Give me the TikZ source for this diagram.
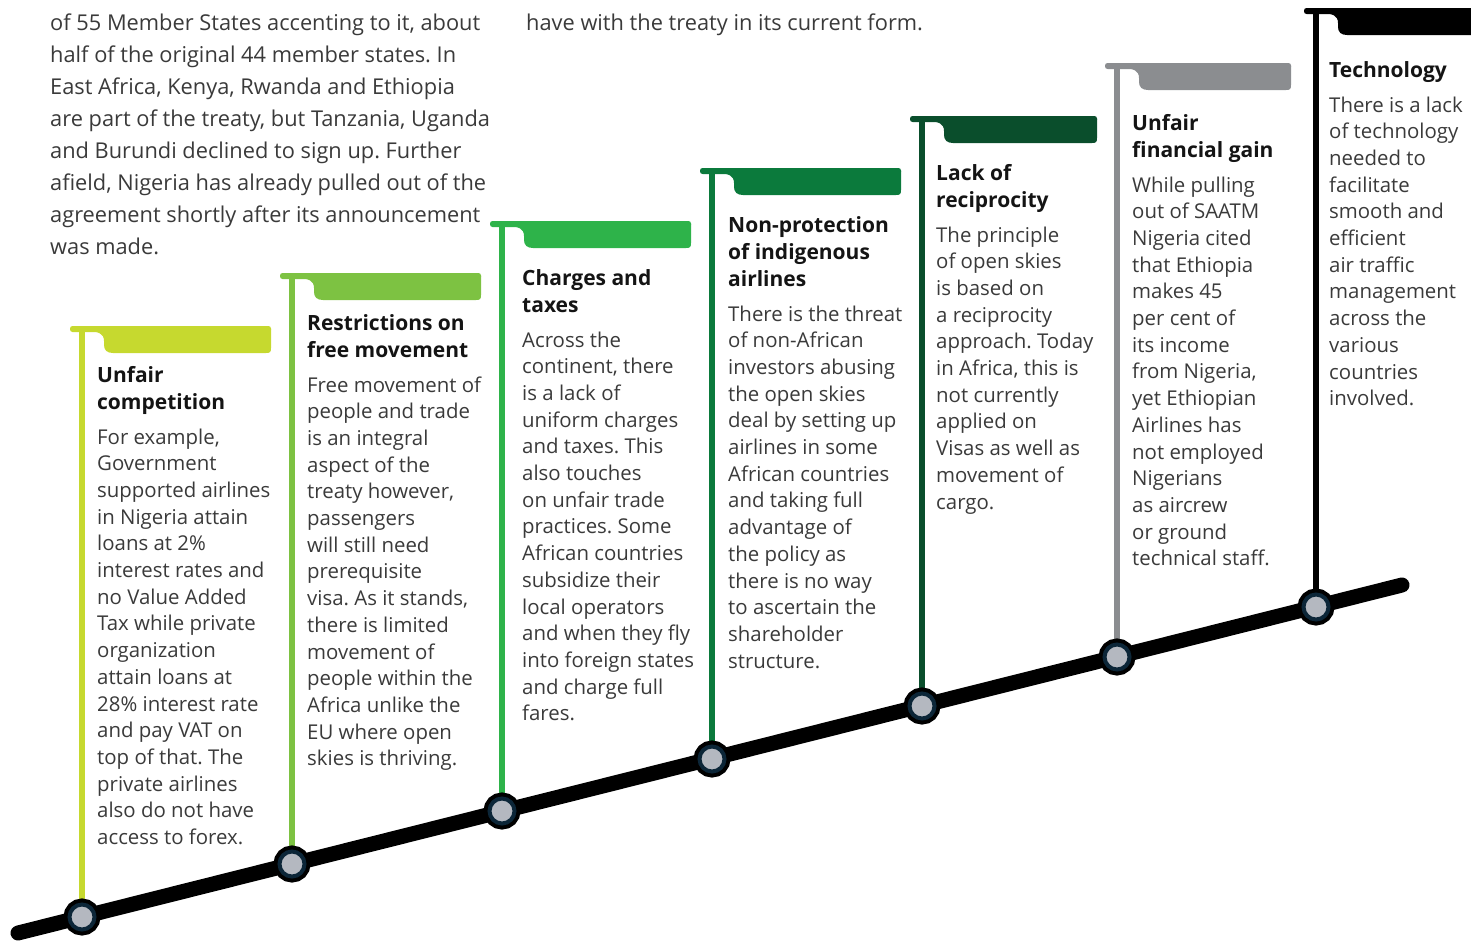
\documentclass[tikz,border=0pt]{standalone}
\usepackage{fontspec}
\setmainfont{Open Sans}
\usetikzlibrary{positioning,backgrounds}
\frenchspacing

\definecolor{cLime}{HTML}{C6D92F}
\definecolor{cLeaf}{HTML}{7DC242}
\definecolor{cGrass}{HTML}{2EB34A}
\definecolor{cForest}{HTML}{0B7A3C}
\definecolor{cPine}{HTML}{0A4E2C}
\definecolor{cAsh}{HTML}{8B8D90}
\definecolor{cInk}{HTML}{000000}
\definecolor{dotgray}{HTML}{B4B8C0}
\definecolor{dotnavy}{HTML}{0C2638}
\definecolor{bodygray}{HTML}{3A3A3A}

% lines stacked with the first baseline as the node's base
\newcommand{\colstack}[1]{\begin{tabular}[t]{@{}l@{}}#1\end{tabular}}

% flag on top of a pole: #1 pole x, #2 top y, #3 right end x, #4 colour
\newcommand{\timeflag}[4]{%
  \fill[#4, rounded corners=2.5pt] ({#1-12},{#2}) rectangle ({#3},{#2+6});
  \fill[#4] ({#1+4},{#2+5}) .. controls ({#1+17},{#2+5}) and ({#1+22},{#2+8}) .. ({#1+22},{#2+15})
    -- ({#1+22},{#2+19}) .. controls ({#1+22},{#2+24}) and ({#1+25},{#2+27}) .. ({#1+31},{#2+27})
    -- ({#3-5},{#2+27}) .. controls ({#3-1},{#2+27}) and ({#3},{#2+26}) .. ({#3},{#2+22})
    -- ({#3},{#2+3}) -- cycle;
}

\begin{document}
\begin{tikzpicture}[x=1pt,y=-1pt,
    timeline/.style={line width=15pt, line cap=round},
    dot/.style={circle, minimum size=25pt, inner sep=0pt, fill=dotgray, draw=dotnavy, line width=4pt,
      preaction={draw=black, line width=12pt}},
    pole/.style={line width=6pt},
    ttl/.style={anchor=base west, inner sep=0pt, text=black!92, font=\bfseries\fontsize{21}{27}\selectfont},
    txt/.style={anchor=base west, inner sep=0pt, text=bodygray, font=\fontsize{20.4}{26.7}\selectfont}]
    \path[use as bounding box] (0,0) rectangle (1471,945);

    % intro text at the top
    \node[txt, font=\fontsize{21.8}{32}\selectfont] (intro) at (50,30) {\colstack{of 55 Member States accenting to it, about\\half of the original 44 member states. In\\East Africa, Kenya, Rwanda and Ethiopia\\are part of the treaty, but Tanzania, Uganda\\and Burundi declined to sign up. Further\\afield, Nigeria has already pulled out of the\\agreement shortly after its announcement\\was made.}};
    \node[txt, font=\fontsize{21.8}{32}\selectfont] (intro2) at (526,30) {have with the treaty in its current form.};

    % the time line
    \coordinate (tl0) at (18,933);
    \coordinate (tl1) at (1402,585);
    \draw[timeline] (tl0) -- (tl1);

    \node[dot] (d1) at (82,917) {};
    \node[dot] (d2) at (292,864) {};
    \node[dot] (d3) at (502,811) {};
    \node[dot] (d4) at (712,759) {};
    \node[dot] (d5) at (922,706) {};
    \node[dot] (d6) at (1117,657) {};
    \node[dot] (d7) at (1316,607) {};

    \coordinate (f1) at (82,326);
    \coordinate (f2) at (292,273);
    \coordinate (f3) at (502,221);
    \coordinate (f4) at (712,168);
    \coordinate (f5) at (922,116);
    \coordinate (f6) at (1117,63);
    \coordinate (f7) at (1316,8);

    \begin{scope}[on background layer]
      \draw[pole, cLime] (f1) -- (d1.center);
      \draw[pole, cLeaf] (f2) -- (d2.center);
      \draw[pole, cGrass] (f3) -- (d3.center);
      \draw[pole, cForest] (f4) -- (d4.center);
      \draw[pole, cPine] (f5) -- (d5.center);
      \draw[pole, cAsh] (f6) -- (d6.center);
      \draw[pole, cInk] (f7) -- (d7.center);
    \end{scope}

    \timeflag{82}{326}{271}{cLime}
    \timeflag{292}{273}{481}{cLeaf}
    \timeflag{502}{221}{691}{cGrass}
    \timeflag{712}{168}{901}{cForest}
    \timeflag{922}{116}{1097}{cPine}
    \timeflag{1117}{63}{1291}{cAsh}
    \timeflag{1316}{8}{1480}{cInk}

    % titles and texts
    \node[ttl] (t1) at (97,382) {\colstack{Unfair\\competition}};
    \node[txt] (b1) at (97,444) {\colstack{For example,\\Government\\supported airlines\\in Nigeria attain\\loans at 2\%\\interest rates and\\no Value Added\\Tax while private\\organization\\attain loans at\\28\% interest rate\\and pay VAT on\\top of that. The\\private airlines\\also do not have\\access to forex.}};

    \node[ttl] (t2) at (307,330) {\colstack{Restrictions on\\free movement}};
    \node[txt] (b2) at (307,392) {\colstack{Free movement of\\people and trade\\is an integral\\aspect of the\\treaty however,\\passengers\\will still need\\prerequisite\\visa. As it stands,\\there is limited\\movement of\\people within the\\Africa unlike the\\EU where open\\skies is thriving.}};

    \node[ttl] (t3) at (522,285) {\colstack{Charges and\\taxes}};
    \node[txt] (b3) at (522,347) {\colstack{Across the\\continent, there\\is a lack of\\uniform charges\\and taxes. This\\also touches\\on unfair trade\\practices. Some\\African countries\\subsidize their\\local operators\\and when they fly\\into foreign states\\and charge full\\fares.}};

    \node[ttl] (t4) at (728,232) {\colstack{Non-protection\\of indigenous\\airlines}};
    \node[txt] (b4) at (728,321) {\colstack{There is the threat\\of non-African\\investors abusing\\the open skies\\deal by setting up\\airlines in some\\African countries\\and taking full\\advantage of\\the policy as\\there is no way\\to ascertain the\\shareholder\\structure.}};

    \node[ttl] (t5) at (936,180) {\colstack{Lack of\\reciprocity}};
    \node[txt] (b5) at (936,242) {\colstack{The principle\\of open skies\\is based on\\a reciprocity\\approach. Today\\in Africa, this is\\not currently\\applied on\\Visas as well as\\movement of\\cargo.}};

    \node[ttl] (t6) at (1132,130) {\colstack{Unfair\\financial gain}};
    \node[txt] (b6) at (1132,192) {\colstack{While pulling\\out of SAATM\\Nigeria cited\\that Ethiopia\\makes 45\\per cent of\\its income\\from Nigeria,\\yet Ethiopian\\Airlines has\\not employed\\Nigerians\\as aircrew\\or ground\\technical staff.}};

    \node[ttl] (t7) at (1329,77) {Technology};
    \node[txt] (b7) at (1329,112) {\colstack{There is a lack\\of technology\\needed to\\facilitate\\smooth and\\efficient\\air traffic\\management\\across the\\various\\countries\\involved.}};
\end{tikzpicture}
\end{document}
